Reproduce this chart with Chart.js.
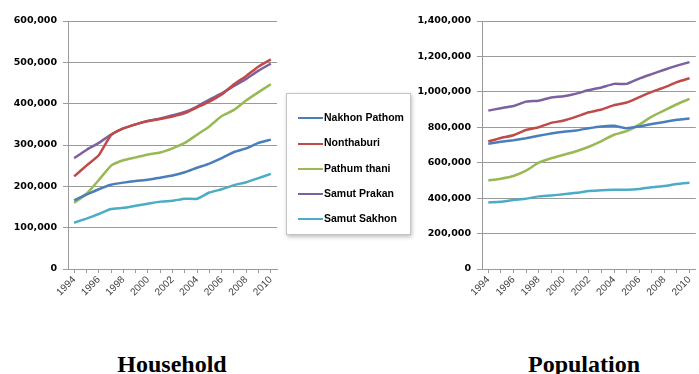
<!DOCTYPE html>
<html>
<head>
<meta charset="utf-8">
<script src="https://cdn.jsdelivr.net/npm/chart.js@4/dist/chart.umd.min.js"></script>
<style>
  body { margin: 0; background: #fff; width: 699px; height: 374px; overflow: hidden; position: relative; }
  canvas { position: absolute; top: 0; }
  #household { left: 0; }
  #population { left: 400px; }
  .title { position: absolute; top: 351px; width: 200px; text-align: center; line-height: 24px;
    font: bold 24px "Liberation Serif", "Times New Roman", serif; color: #000; }
  #legend { position: absolute; left: 286px; top: 93px; width: 125px; height: 142px; box-sizing: border-box;
    border: 1px solid #c4c4c4; box-shadow: 1px 2px 4px rgba(0,0,0,0.25); background: #fff; }
  .item { position: absolute; left: 11px; height: 14px; font: bold 10.5px "Liberation Sans", Arial, sans-serif;
    color: #000; white-space: nowrap; line-height: 14px; }
  .item span { display: inline-block; width: 25px; height: 2px; vertical-align: middle; margin-right: 1px; }
</style>
</head>
<body>
<canvas id="household" width="285" height="330"></canvas>
<canvas id="population" width="299" height="330"></canvas>
<div id="legend"></div>
<div class="title" style="left:72px">Household</div>
<div class="title" style="left:484px">Population</div>
<script>
const years = ['1994', '1995', '1996', '1997', '1998', '1999', '2000', '2001', '2002',
  '2003', '2004', '2005', '2006', '2007', '2008', '2009', '2010']
const regions = ['Nakhon Pathom', 'Nonthaburi', 'Pathum thani', 'Samut Prakan', 'Samut Sakhon']
const colors = ['#4a7ebb', '#be4b48', '#98b954', '#7d60a0', '#4bacc6']

// households
const hhNakhonPathom = [166000, 180000, 193000, 204000, 209000, 213000, 216000, 221000, 226000, 234000, 245000, 255000, 268000, 283000, 292000, 305000, 313000]
const hhNonthaburi = [224000, 250000, 275000, 324000, 340000, 350000, 358000, 363000, 369000, 377000, 391000, 405000, 422000, 447000, 467000, 490000, 507000]
const hhPathumThani = [160000, 182000, 215000, 250000, 263000, 270000, 277000, 282000, 292000, 305000, 325000, 345000, 370000, 385000, 408000, 428000, 447000]
const hhSamutPrakan = [268000, 288000, 305000, 325000, 340000, 350000, 358000, 364000, 372000, 380000, 393000, 410000, 425000, 443000, 460000, 480000, 497000]
const hhSamutSakhon = [112000, 122000, 133000, 145000, 148000, 153000, 158000, 163000, 165000, 170000, 170000, 185000, 193000, 203000, 210000, 220000, 230000]

// population
const popNakhonPathom = [707000, 718000, 727000, 738000, 752000, 765000, 775000, 782000, 795000, 805000, 808000, 795000, 805000, 818000, 830000, 842000, 850000]
const popNonthaburi = [720000, 740000, 755000, 785000, 800000, 825000, 838000, 860000, 885000, 900000, 925000, 940000, 970000, 1000000, 1025000, 1055000, 1077000]
const popPathumThani = [500000, 510000, 525000, 555000, 600000, 625000, 645000, 665000, 690000, 722000, 758000, 778000, 815000, 860000, 895000, 930000, 960000]
const popSamutPrakan = [894000, 908000, 920000, 945000, 950000, 968000, 975000, 990000, 1010000, 1025000, 1045000, 1045000, 1075000, 1100000, 1125000, 1148000, 1168000]
const popSamutSakhon = [376000, 380000, 390000, 397000, 410000, 415000, 422000, 430000, 440000, 445000, 447000, 447000, 452000, 462000, 468000, 480000, 487000]

const household = [hhNakhonPathom, hhNonthaburi, hhPathumThani, hhSamutPrakan, hhSamutSakhon]
const population = [popNakhonPathom, popNonthaburi, popPathumThani, popSamutPrakan, popSamutSakhon]

const gridColor = '#9a9a9a'

function makeChart (id, series, max, step, yWidth, padRight) {
  return new Chart(document.getElementById(id), {
    type: 'line',
    data: {
      labels: years,
      datasets: series.map((data, i) => ({
        label: regions[i],
        data: data,
        borderColor: colors[i],
        backgroundColor: colors[i],
        borderWidth: 2.5,
        pointRadius: 0,
        tension: 0.15
      }))
    },
    options: {
      responsive: false,
      animation: false,
      layout: { padding: { top: 21, right: padRight, left: 0, bottom: 0 } },
      plugins: { legend: { display: false }, tooltip: { enabled: false } },
      scales: {
        x: {
          offset: true,
          grid: { drawOnChartArea: false, color: gridColor, tickLength: 4 },
          border: { color: gridColor },
          ticks: {
            autoSkip: false,
            minRotation: 45,
            maxRotation: 45,
            padding: 1,
            color: '#404040',
            font: { family: 'Liberation Sans', size: 10 },
            callback: (v, i) => (i % 2 === 0 ? years[i] : '')
          },
          afterFit: (scale) => { scale.height = 61 }
        },
        y: {
          min: 0,
          max: max,
          grid: { color: gridColor, tickLength: 5 },
          border: { color: gridColor },
          ticks: {
            stepSize: step,
            padding: 6,
            color: '#000',
            font: { family: 'DejaVu Sans', size: 9.5, weight: 'bold' },
            callback: (v) => v.toLocaleString('en-US')
          },
          afterFit: (scale) => { scale.width = yWidth }
        }
      }
    }
  })
}

makeChart('household', household, 600000, 100000, 68, 8)
makeChart('population', population, 1400000, 200000, 82, 0)

// legend
const legend = document.getElementById('legend')
regions.forEach((name, i) => {
  const item = document.createElement('div')
  item.className = 'item'
  item.style.top = (16 + i * 25.3) + 'px'
  item.innerHTML = '<span style="background:' + colors[i] + '"></span>' + name
  legend.appendChild(item)
})
</script>
</body>
</html>
